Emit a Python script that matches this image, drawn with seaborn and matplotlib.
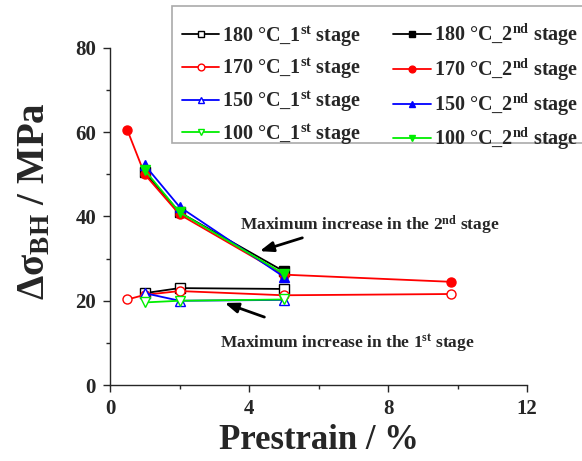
import numpy as np
import pandas as pd
import seaborn as sns
import matplotlib
matplotlib.use("Agg")
import matplotlib.pyplot as plt
from matplotlib.patches import Rectangle

# Prestrain (%) and bake-hardening increment (MPa) for each temperature / stage
x_180 = [1.0, 2.0, 5.0]
y_180_1st = [21.8, 23.0, 22.8]
y_180_2nd = [50.5, 41.0, 27.0]

x_170 = [0.5, 1.0, 2.0, 5.0, 9.8]
y_170_1st = [20.3, 21.4, 22.3, 21.3, 21.6]
y_170_2nd = [60.5, 50.0, 40.5, 26.2, 24.5]

x_150 = [1.0, 2.0, 5.0]
y_150_1st = [21.8, 20.0, 20.2]
y_150_2nd = [52.2, 42.3, 25.7]

x_100 = [1.0, 2.0, 5.0]
y_100_1st = [19.6, 20.0, 20.3]
y_100_2nd = [51.0, 41.0, 26.4]

labels_1st = ["180 °C_1$^{st}$ stage", "170 °C_1$^{st}$ stage",
              "150 °C_1$^{st}$ stage", "100 °C_1$^{st}$ stage"]
labels_2nd = ["180 °C_2$^{nd}$ stage", "170 °C_2$^{nd}$ stage",
              "150 °C_2$^{nd}$ stage", "100 °C_2$^{nd}$ stage"]

sns.set_style("ticks")
plt.rcParams["font.family"] = ["Liberation Serif", "DejaVu Serif"]
plt.rcParams["font.weight"] = "bold"
plt.rcParams["mathtext.fontset"] = "custom"
plt.rcParams["mathtext.rm"] = "Liberation Serif:bold"
plt.rcParams["mathtext.it"] = "Liberation Serif:bold"
plt.rcParams["mathtext.bf"] = "Liberation Serif:bold"

fig = plt.figure(figsize=(5.82, 4.61), dpi=100)
ax = fig.add_axes([110 / 582, 1 - 385 / 461, 417 / 582, 337 / 461])

series = [
    (x_180, y_180_1st, y_180_2nd, "black", "s"),
    (x_170, y_170_1st, y_170_2nd, "#ff0000", "o"),
    (x_150, y_150_1st, y_150_2nd, "#0000ff", "^"),
    (x_100, y_100_1st, y_100_2nd, "#00ee00", "v"),
]

h1, h2 = [], []
for xs, y1, y2, col, mk in series:
    n = len(ax.lines)
    sns.lineplot(x=xs, y=y1, ax=ax, color=col, marker=mk, markersize=6.5,
                 markerfacecolor="white", markeredgecolor=col, markeredgewidth=1.0,
                 linewidth=1.3, estimator=None, sort=False, zorder=3)
    h1.append(ax.lines[n])
    n = len(ax.lines)
    sns.lineplot(x=xs, y=y2, ax=ax, color=col, marker=mk, markersize=6.5,
                 markerfacecolor=col, markeredgecolor=col, markeredgewidth=1.0,
                 linewidth=1.3, estimator=None, sort=False, zorder=3)
    h2.append(ax.lines[n])

ax.set_xlim(0, 12)
ax.set_ylim(0, 80)
ax.set_xticks([0, 4, 8, 12])
ax.set_xticks([2, 6, 10], minor=True)
ax.set_yticks([0, 20, 40, 60, 80])
ax.set_yticks([10, 30, 50, 70], minor=True)
ax.tick_params(which="major", direction="out", length=5, width=1.0,
               labelsize=15, pad=5)
ax.tick_params(which="minor", direction="out", length=3, width=1.0)
for lab in ax.get_xticklabels() + ax.get_yticklabels():
    lab.set_fontweight("bold")
sns.despine(ax=ax)
for s in ("left", "bottom"):
    ax.spines[s].set_linewidth(1.0)

ax.set_xlabel("Prestrain / %", fontsize=25, fontweight="bold", labelpad=4)
ax.set_ylabel("Δσ$_{BH}$ / MPa", fontsize=28, fontweight="bold")
ax.yaxis.set_label_coords(-0.135, 0.545)

# legend frame runs off the right edge of the figure
fig.patches.append(Rectangle((172 / 582, 1 - 143 / 461), 430 / 582, 137 / 461,
                             transform=fig.transFigure, facecolor="white",
                             edgecolor="#aaaaaa", linewidth=1.2, zorder=1))

handles = h1 + h2
labels = labels_1st + labels_2nd
leg = fig.legend(handles, labels, ncol=2, loc="upper left",
                 bbox_to_anchor=(182 / 582, 1 - 22 / 461), borderaxespad=0,
                 prop={"family": "Liberation Serif", "weight": "bold", "size": 14.5},
                 frameon=False, borderpad=0,
                 handlelength=1.85, handletextpad=0.15, columnspacing=1.6,
                 labelspacing=0.4, markerscale=0.75)

ax.annotate("", xy=(257, 461 - 252), xytext=(305, 461 - 237),
            xycoords="figure pixels", textcoords="figure pixels",
            arrowprops=dict(arrowstyle="-|>,head_length=0.8,head_width=0.3",
                            color="black", lw=2))
fig.text(370 / 582, 1 - 225 / 461, "Maximum increase in the 2$^{nd}$ stage",
         ha="center", va="center", fontsize=12.5, fontweight="bold")

ax.annotate("", xy=(222, 461 - 302), xytext=(267, 461 - 318),
            xycoords="figure pixels", textcoords="figure pixels",
            arrowprops=dict(arrowstyle="-|>,head_length=0.8,head_width=0.3",
                            color="black", lw=2))
fig.text(347 / 582, 1 - 343 / 461, "Maximum increase in the 1$^{st}$ stage",
         ha="center", va="center", fontsize=12.5, fontweight="bold")

fig.savefig("out.png", dpi=100)
